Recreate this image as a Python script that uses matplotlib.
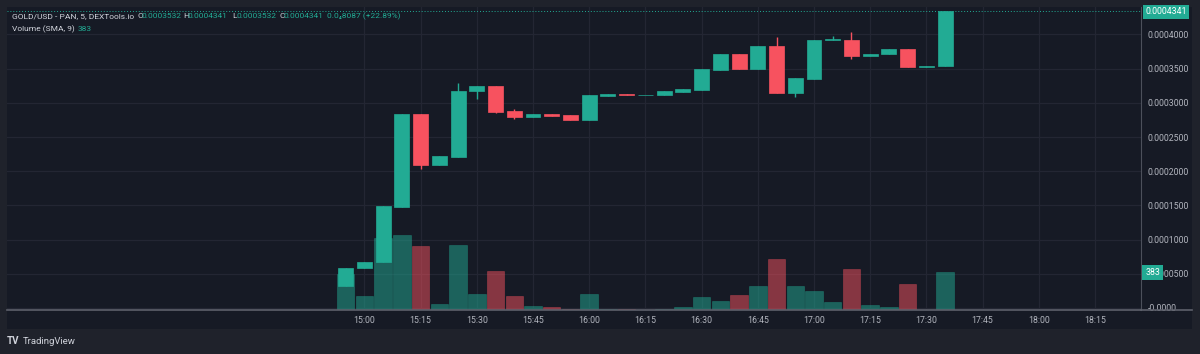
import matplotlib
matplotlib.use("Agg")
import matplotlib.pyplot as plt
import matplotlib.transforms as mtransforms
from matplotlib.patches import Rectangle
from matplotlib.lines import Line2D

## Chart data: GOLD/USD 5 minute candles, 14:55 to 17:35
times = ["14:55", "15:00", "15:05", "15:10", "15:15", "15:20", "15:25", "15:30", "15:35",
         "15:40", "15:45", "15:50", "15:55", "16:00", "16:05", "16:10", "16:15", "16:20",
         "16:25", "16:30", "16:35", "16:40", "16:45", "16:50", "16:55", "17:00", "17:05",
         "17:10", "17:15", "17:20", "17:25", "17:30", "17:35"]
opens = [0.0000322, 0.0000580, 0.0000668, 0.0001481, 0.0002836, 0.0002086, 0.0002208, 0.0003168,
         0.0003241, 0.0002880, 0.0002788, 0.0002836, 0.0002817, 0.0002753, 0.0003104, 0.0003129,
         0.0003110, 0.0003110, 0.0003163, 0.0003192, 0.0003484, 0.0003709, 0.0003499, 0.0003830,
         0.0003143, 0.0003343, 0.0003918, 0.0003918, 0.0003689, 0.0003709, 0.0003787, 0.0003523,
         0.0003532]
closes = [0.0000589, 0.0000677, 0.0001487, 0.0002836, 0.0002086, 0.0002218, 0.0003173, 0.0003241,
          0.0002870, 0.0002788, 0.0002836, 0.0002807, 0.0002753, 0.0003110, 0.0003129, 0.0003113,
          0.0003118, 0.0003173, 0.0003202, 0.0003494, 0.0003709, 0.0003499, 0.0003830, 0.0003143,
          0.0003358, 0.0003918, 0.0003928, 0.0003689, 0.0003718, 0.0003787, 0.0003523, 0.0003532,
          0.0004341]
highs = [0.0000589, 0.0000677, 0.0001487, 0.0002836, 0.0002836, 0.0002218, 0.0003294, 0.0003241,
         0.0003241, 0.0002905, 0.0002836, 0.0002836, 0.0002817, 0.0003110, 0.0003129, 0.0003129,
         0.0003118, 0.0003173, 0.0003202, 0.0003494, 0.0003709, 0.0003709, 0.0003830, 0.0003962,
         0.0003358, 0.0003918, 0.0003977, 0.0004035, 0.0003718, 0.0003787, 0.0003787, 0.0003532,
         0.0004341]
lows = [0.0000322, 0.0000580, 0.0000668, 0.0001481, 0.0002028, 0.0002086, 0.0002208, 0.0003056,
        0.0002851, 0.0002759, 0.0002788, 0.0002807, 0.0002753, 0.0002753, 0.0003104, 0.0003113,
        0.0003110, 0.0003110, 0.0003163, 0.0003192, 0.0003484, 0.0003499, 0.0003499, 0.0003143,
        0.0003085, 0.0003343, 0.0003918, 0.0003645, 0.0003689, 0.0003709, 0.0003523, 0.0003523,
        0.0003532]
volumes = [370, 148, 733, 756, 645, 64, 662, 161, 393, 141, 43, 30, 10, 168, 10, 10, 5, 10,
           30, 134, 91, 154, 242, 517, 249, 192, 81, 416, 50, 30, 269, 0, 383]
change_text = "0.0\u20848087"
change_pct = 22.89

## Axis labels
time_ticks = ["15:00", "15:15", "15:30", "15:45", "16:00", "16:15", "16:30", "16:45",
              "17:00", "17:15", "17:30", "17:45", "18:00", "18:15"]
time_tick_pos = [1, 4, 7, 10, 13, 16, 19, 22, 25, 28, 31, 34, 37, 40]
price_ticks = [0.0, 0.00005, 0.0001, 0.00015, 0.0002, 0.00025, 0.0003, 0.00035, 0.0004]
price_tick_labels = ["-0.0000", "0.0000500", "0.0001000", "0.0001500", "0.0002000",
                     "0.0002500", "0.0003000", "0.0003500", "0.0004000"]

UP = "#22ab94"
DOWN = "#f7525f"
PANEL = "#161a25"
OUTER = "#1f222b"
GRID = "#232633"
TXT = "#b2b5be"

plt.rcParams['font.family'] = ['Roboto', 'DejaVu Sans']

W, H = 1200, 354
fig = plt.figure(figsize=(W / 100, H / 100), dpi=100, facecolor=OUTER)

def fx(x):
    return x / W

def fy(y):
    return 1 - y / H

## dark panel behind chart + price scale
fig.patches.append(Rectangle((fx(7), fy(329)), fx(1192) - fx(7), fy(7) - fy(329),
                             transform=fig.transFigure, facecolor=PANEL, edgecolor="none", zorder=-5))

left, right, top, bottom = 7, 1140.5, 7, 310.3
rect = [fx(left), fy(bottom), fx(right) - fx(left), fy(top) - fy(bottom)]
ax_vol = fig.add_axes(rect, facecolor=PANEL)
ax = fig.add_axes(rect, facecolor="none")

xlim = (-18.08, 42.43)
n = len(times)
idx = list(range(n))
colors = [UP if c >= o else DOWN for o, c in zip(opens, closes)]

ax.set_xlim(*xlim)
ax.set_ylim(-0.0000034, 0.0004401)

## grid, drawn on the volume axes (below everything) but placed with the price scale
for p in time_tick_pos:
    ax_vol.axvline(p, color=GRID, linewidth=0.9, zorder=0)
price_tr = mtransforms.blended_transform_factory(ax_vol.transAxes, ax.transData)
for p in price_ticks:
    ax_vol.plot([0, 1], [p, p], transform=price_tr, color=GRID, linewidth=0.9, zorder=0)

## volume pane
ax_vol.bar(idx, volumes, width=0.93, color=colors, alpha=0.5, edgecolor=colors, linewidth=0.4, zorder=2)
ax_vol.set_xlim(*xlim)
ax_vol.set_ylim(0, 3057)
ax_vol.tick_params(left=False, bottom=False, labelleft=False, labelbottom=False)
for s in ax_vol.spines.values():
    s.set_visible(False)

## candles
for i in idx:
    ax.vlines(i, lows[i], highs[i], color=colors[i], linewidth=1, zorder=3)
    ax.bar(i, abs(closes[i] - opens[i]), bottom=min(opens[i], closes[i]), width=0.8,
           color=colors[i], edgecolor=colors[i], linewidth=0.5, zorder=4)

ax.set_xticks(time_tick_pos)
ax.set_xticklabels(time_ticks)
ax.set_yticks(price_ticks)
ax.set_yticklabels(price_tick_labels)
ax.yaxis.tick_right()
ax.tick_params(axis="both", length=0, colors=TXT, labelsize=6.3)
ax.tick_params(axis="y", pad=5)
ax.tick_params(axis="x", pad=4)
for s in ["top", "left"]:
    ax.spines[s].set_visible(False)
ax.spines["right"].set_color("#4c505b")
ax.spines["bottom"].set_color("#5d606b")
ax.spines["bottom"].set_linewidth(1.2)

## last price line
last = closes[-1]
ax.axhline(last, color=UP, linewidth=0.7, linestyle=(0, (1, 2)), zorder=2)

## axis line carried across the price scale
fig.add_artist(Line2D([fx(right), fx(1192)], [fy(bottom), fy(bottom)], color="#5d606b", linewidth=1.2))

## price label boxes
fig.text(fx(1166), fy(12), "%.7f" % last, color="white", fontsize=6.3, ha="center", va="center",
         bbox=dict(boxstyle="square,pad=0.3", facecolor=UP, edgecolor="none"))
vol_y = ax_vol.transData.transform((0, volumes[-1]))[1] / H
fig.text(fx(1152.5), vol_y, str(volumes[-1]), color="white", fontsize=6.3, ha="center", va="center",
         bbox=dict(boxstyle="square,pad=0.35", facecolor=UP, edgecolor="none"), zorder=10)

## legend lines
fs = 6.0
fig.text(fx(12), fy(16), "GOLD/USD - PAN, 5, DEXTools.io", color="#d1d4dc", fontsize=fs, va="center")
pieces = [("O", 137, opens[-1]), ("H", 183.5, highs[-1]), ("L", 232, lows[-1]), ("C", 279, closes[-1])]
for letter, x, val in pieces:
    fig.text(fx(x), fy(16), letter, color="#d1d4dc", fontsize=fs, va="center")
    fig.text(fx(x + 4.5), fy(16), "%.7f" % val, color=UP, fontsize=fs, va="center")
fig.text(fx(327.5), fy(16), "%s (+%.2f%%)" % (change_text, change_pct),
         color=UP, fontsize=fs, va="center")
fig.text(fx(12), fy(28.7), "Volume (SMA, 9)", color="#d1d4dc", fontsize=fs, va="center")
fig.text(fx(78), fy(28.7), str(volumes[-1]), color=UP, fontsize=fs, va="center")

## TradingView mark
fig.text(fx(7), fy(341.5), "TV", color="#d1d4dc", fontsize=7, fontweight="bold", va="center")
fig.text(fx(23), fy(341.5), "TradingView", color="#d1d4dc", fontsize=6.8, va="center")

fig.savefig("out.png", dpi=100, facecolor=OUTER)
